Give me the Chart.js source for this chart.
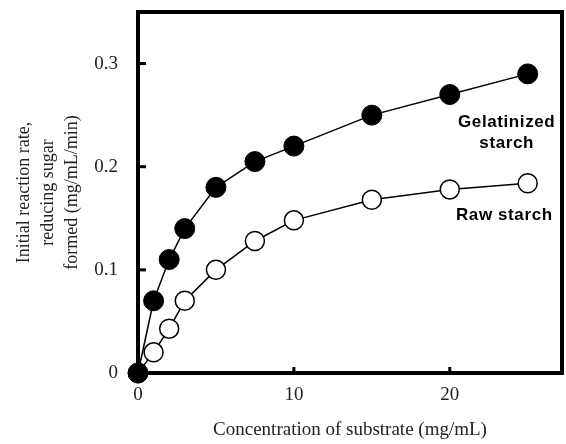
<!DOCTYPE html>
<html>
<head>
<meta charset="utf-8">
<script src="https://cdn.jsdelivr.net/npm/chart.js@4.4.1/dist/chart.umd.min.js"></script>
<style>
    html, body { margin: 0; padding: 0; background: #fff; }
    #wrap { width: 566px; height: 444px; }
</style>
</head>
<body>
<div id="wrap"><canvas id="graph-rate"></canvas></div>
<script>
// substrate concentration (mg/mL)
var substrate = [0, 1, 2, 3, 5, 7.5, 10, 15, 20, 25];
// initial reaction rate (mg/mL/min)
var gelatinized = [0, 0.07, 0.11, 0.14, 0.18, 0.205, 0.22, 0.25, 0.27, 0.29];
var raw = [0, 0.02, 0.043, 0.07, 0.1, 0.128, 0.148, 0.168, 0.178, 0.184];
var xTicks = [0, 10, 20];
var yTicks = [0, 0.1, 0.2, 0.3];

// curve labels, placed in data units
var curveLabels = [
    {text: "Gelatinized", x: 23.65, y: 0.2435},
    {text: "starch", x: 23.65, y: 0.223},
    {text: "Raw starch", x: 23.5, y: 0.1527}
];

const ctx = document.getElementById('graph-rate');
const serif = "'Liberation Serif', 'DejaVu Serif', serif";

function points(ys) {
    return substrate.map(function(x, i){ return {x: x, y: ys[i]}; });
}

// frame + inward tick marks + curve labels
const framePlugin = {
    id: 'frame',
    afterDatasetsDraw: function(chart) {
        var c = chart.ctx;
        var a = chart.chartArea;
        var xs = chart.scales.x, ys = chart.scales.y;
        c.save();
        c.strokeStyle = '#000';
        c.lineWidth = 4;
        c.strokeRect(a.left, a.top, a.right - a.left, a.bottom - a.top);
        c.fillStyle = '#000';
        yTicks.forEach(function(v){
            if (v == 0) return;
            var py = ys.getPixelForValue(v);
            c.fillRect(a.left, py - 1.5, 8, 3);
        });
        xTicks.forEach(function(v){
            if (v == 0) return;
            var px = xs.getPixelForValue(v);
            c.fillRect(px - 1.5, a.bottom - 6, 3, 6);
        });
        c.font = "bold 17px 'Liberation Sans', Arial, sans-serif";
        c.textAlign = 'center';
        c.textBaseline = 'middle';
        if ('letterSpacing' in c) c.letterSpacing = '0.6px';
        curveLabels.forEach(function(l){
            c.fillText(l.text, xs.getPixelForValue(l.x), ys.getPixelForValue(l.y));
        });
        c.restore();
    }
};

new Chart(ctx, {
    type: 'line',
    data: {
        datasets: [
            {
                label: 'Gelatinized starch',
                data: points(gelatinized),
                borderColor: '#000',
                borderWidth: 1.5,
                backgroundColor: '#000',
                pointBackgroundColor: '#000',
                pointBorderColor: '#000',
                pointRadius: 10,
                pointBorderWidth: 1,
                clip: false
            },
            {
                label: 'Raw starch',
                data: points(raw),
                borderColor: '#000',
                borderWidth: 1.5,
                backgroundColor: '#fff',
                pointBackgroundColor: '#fff',
                pointBorderColor: '#000',
                pointRadius: 9.5,
                pointBorderWidth: 1.5,
                clip: false
            }
        ]
    },
    options: {
        responsive: true,
        maintainAspectRatio: false,
        animation: false,
        layout: {autoPadding: false, padding: {top: 12, right: 4, left: 0, bottom: 0}},
        plugins: {
            legend: {display: false},
            tooltip: {enabled: false}
        },
        scales: {
            x: {
                type: 'linear',
                min: 0,
                max: 27.2,
                afterBuildTicks: function(s){ s.ticks = xTicks.map(function(v){ return {value: v}; }); },
                afterFit: function(s){ s.height = 71; },
                grid: {display: false},
                border: {display: false},
                ticks: {
                    color: '#222',
                    padding: 3,
                    maxRotation: 0,
                    font: {family: serif, size: 19}
                },
                title: {
                    display: true,
                    text: 'Concentration of substrate (mg/mL)',
                    color: '#222',
                    padding: {top: 0, bottom: 3},
                    font: {family: serif, size: 19, lineHeight: 1.15}
                }
            },
            y: {
                type: 'linear',
                min: 0,
                max: 0.35,
                afterBuildTicks: function(s){ s.ticks = yTicks.map(function(v){ return {value: v}; }); },
                afterFit: function(s){ s.width = 138; s.paddingTop = 0; s.paddingBottom = 0; },
                grid: {display: false},
                border: {display: false},
                ticks: {
                    color: '#222',
                    padding: 12,
                    font: {family: serif, size: 19},
                    callback: function(v){ return v == 0 ? '0' : v.toFixed(1); }
                },
                title: {
                    display: true,
                    text: ['Initial reaction rate,', 'reducing sugar', 'formed (mg/mL/min)'],
                    color: '#222',
                    padding: {top: 12, bottom: 0},
                    font: {family: serif, size: 18, lineHeight: 1.333}
                }
            }
        }
    },
    plugins: [framePlugin]
});
</script>
</body>
</html>
